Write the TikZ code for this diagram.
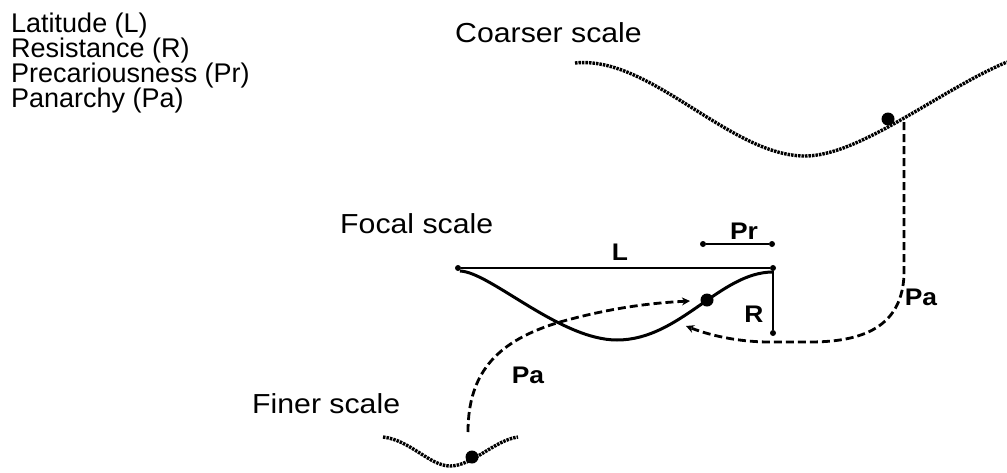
\documentclass[tikz,border=0pt]{standalone}
\usepackage{fontspec}
\setmainfont{Liberation Sans}
\newfontfamily\headfont{Liberation Sans}[FakeStretch=1.1]
\newfontfamily\tagfont{Liberation Sans Bold}[FakeStretch=1.1]
\usetikzlibrary{arrows.meta}

\begin{document}
\begin{tikzpicture}[
    x=1pt, y=-1pt,
    legtext/.style={font=\fontsize{27}{30}\selectfont, anchor=base west, inner sep=0pt},
    scaletext/.style={font=\headfont\fontsize{27.5}{30}\selectfont, anchor=base west, inner sep=0pt},
    tag/.style={font=\tagfont\fontsize{24}{28}\selectfont, anchor=base, inner sep=0pt},
    scurve/.style={line width=3.4pt, dash pattern=on 2.5pt off 1pt},
    fcurve/.style={line width=3pt},
    dim/.style={line width=1.8pt},
    pa/.style={line width=2.8pt, dash pattern=on 8pt off 4pt},
    paarrow/.style={pa, -{Stealth[length=8pt, width=8pt]}},
    tick/.style={circle, fill, inner sep=0pt, minimum size=6pt},
    ball/.style={circle, fill, inner sep=0pt, minimum size=13pt},
]
\useasboundingbox (0,0) rectangle (1007,472);

% ===================== Leyenda =====================
\node[legtext] (legL)  at (11,32)  {Latitude (L)};
\node[legtext] (legR)  at (11,57)  {Resistance (R)};
\node[legtext] (legPr) at (11,82)  {Precariousness (Pr)};
\node[legtext] (legPa) at (11,107) {Panarchy (Pa)};

% ===================== Coarser scale =====================
\node[scaletext] (coarse) at (455,42) {Coarser scale};
\draw[scurve] (575,63) .. controls (650,55) and (730,156) .. (805,156)
              .. controls (860,156) and (940,90) .. (1007,62);
\node[ball] (coarseball) at (888,119) {};
\coordinate (coarseHit) at (904,122);

% ===================== Focal scale =====================
\node[scaletext] (focal) at (340,233) {Focal scale};
\draw[fcurve] (460,271) .. controls (490,272) and (560,340) .. (617,340)
              .. controls (680,340) and (720,272) .. (773,272);
\node[ball] (focalball) at (707,300) {};

\node[tick] (Lleft)  at (458,268) {};
\node[tick] (Lright) at (773,268) {};
\draw[dim] (Lleft) -- (Lright);
\node[tag] at (620,260) {L};

\node[tick] (Prleft)  at (703,244) {};
\node[tick] (Prright) at (772,244) {};
\draw[dim] (Prleft) -- (Prright);
\node[tag] at (744,239) {Pr};

\node[tick] (Rbottom) at (773,333) {};
\draw[dim] (Lright) -- (Rbottom);
\node[tag] at (754,322) {R};

% ===================== Finer scale =====================
\node[scaletext] (finer) at (252,413) {Finer scale};
\draw[scurve] (383,437) .. controls (410,440) and (430,466) .. (450,466)
              .. controls (472,466) and (495,440) .. (518,437);
\node[ball] (fineball) at (472,457) {};

% ===================== Panarchy =====================
\coordinate (fineTop) at (468,432);
\coordinate (focalUp) at (690,301);
\draw[paarrow] (fineTop) .. controls (468,370) and (500,340) .. (560,322)
               .. controls (610,308) and (650,303) .. (focalUp);
\node[tag] at (528,383) {Pa};

\coordinate (focalBack) at (686,326);
\draw[paarrow] (coarseHit) -- (904,275) .. controls (902,322) and (870,342) .. (810,342)
               -- (770,342) .. controls (735,342) and (706,334) .. (focalBack);
\node[tag] at (921,305) {Pa};

\end{tikzpicture}
\end{document}
